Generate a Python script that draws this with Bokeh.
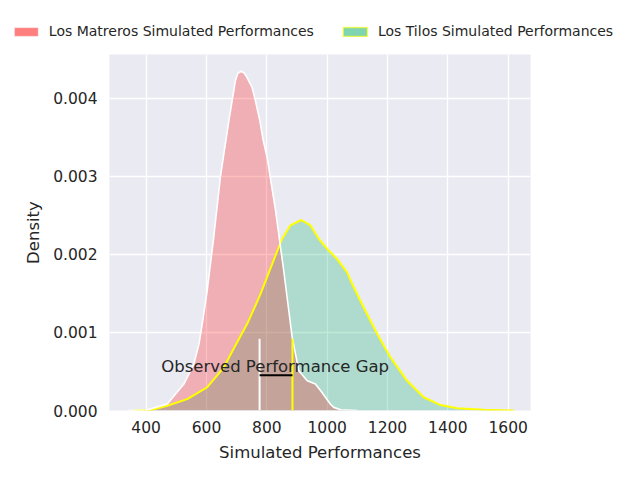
from bokeh.plotting import figure
from bokeh.layouts import column
from bokeh.models import ColumnDataSource, FixedTicker, PrintfTickFormatter, Legend, LegendItem
from bokeh.core.properties import value
from bokeh.embed import file_html
from bokeh.resources import INLINE

# ---- data ----
matreros_x = [340, 400, 470, 525, 558, 575, 586, 602, 624, 646, 674, 685, 696, 704, 715,
              726, 735, 751, 762, 777, 788, 801, 829, 856, 884, 906, 934, 961, 983, 1011,
              1022, 1045, 1100]
matreros_y = [0.0, 0.000005, 0.000082, 0.000338, 0.000595, 0.00085, 0.00111, 0.00153,
              0.00222, 0.00299, 0.00371, 0.00397, 0.00423, 0.00432, 0.004346, 0.00432,
              0.00426, 0.00414, 0.00397, 0.00371, 0.00346, 0.00324, 0.00256, 0.00179,
              0.00094, 0.00051, 0.00038, 0.00034, 0.00023, 0.00008, 0.00004, 0.00001, 0.0]

tilos_x = [360, 414, 470, 536, 602, 657, 690, 735, 779, 823, 851, 878, 914, 945, 972,
           1000, 1033, 1066, 1083, 1121, 1166, 1210, 1265, 1320, 1376, 1431, 1519, 1618]
tilos_y = [0.0, 0.000005, 0.00006, 0.000146, 0.000295, 0.00055, 0.00079, 0.00111,
           0.00149, 0.00193, 0.0022, 0.00237, 0.00244, 0.00237, 0.0022, 0.00207,
           0.00194, 0.00177, 0.00162, 0.00132, 0.00098, 0.00068, 0.00038, 0.00017,
           0.00007, 0.00003, 0.00001, 0.0]

observed_matreros = 776
observed_tilos = 885
marker_top = 0.00092
gap_y = 0.00045
label_x = 450
label_y = 0.00056
label_text = "Observed Performance Gap"

x_ticks = [400, 600, 800, 1000, 1200, 1400, 1600]
y_ticks = [0.0, 0.001, 0.002, 0.003, 0.004]

series_names = ["Los Matreros Simulated Performances", "Los Tilos Simulated Performances"]

FONT = "DejaVu Sans"
TXT = "#262626"
RED = "red"
GREEN = (0, 170, 100)
NAN = float("nan")

# ---- main plot ----
p = figure(width=624, height=418, x_range=(278.5, 1674), y_range=(0, 0.00456),
           output_backend="svg", toolbar_location=None,
           min_border_left=109, min_border_right=94, min_border_top=8, min_border_bottom=54)
p.background_fill_color = "#EAEAF2"
p.border_fill_color = "white"
p.outline_line_color = None

for g in (p.xgrid, p.ygrid):
    g.grid_line_color = "white"
    g.grid_line_width = 1.3

p.xaxis.ticker = FixedTicker(ticks=x_ticks)
p.yaxis.ticker = FixedTicker(ticks=y_ticks)
p.yaxis.formatter = PrintfTickFormatter(format="%.3f")
for ax in (p.xaxis, p.yaxis):
    ax.axis_line_color = None
    ax.major_tick_line_color = None
    ax.minor_tick_line_color = None
    ax.major_tick_out = 0
    ax.major_label_text_font = FONT
    ax.major_label_text_font_size = "15.5px"
    ax.major_label_text_color = TXT
    ax.axis_label_text_font = FONT
    ax.axis_label_text_font_size = "16.5px"
    ax.axis_label_text_font_style = "normal"
    ax.axis_label_text_color = TXT
p.xaxis.axis_label = "Simulated Performances"
p.yaxis.axis_label = "Density"
p.xaxis.major_label_standoff = 10
p.yaxis.major_label_standoff = 12
p.xaxis.axis_label_standoff = 7
p.yaxis.axis_label_standoff = 7

src_m = ColumnDataSource(dict(x=matreros_x, y=matreros_y))
src_t = ColumnDataSource(dict(x=tilos_x, y=tilos_y))

p.varea(x="x", y1=0, y2="y", source=src_t, fill_color=GREEN, fill_alpha=0.25)
p.varea(x="x", y1=0, y2="y", source=src_m, fill_color=RED, fill_alpha=0.25)
p.line(x="x", y="y", source=src_t, line_color="yellow", line_width=2, line_join="round")
p.line(x="x", y="y", source=src_m, line_color="white", line_width=1.6, line_join="round")

p.segment(x0=[observed_matreros], y0=[0], x1=[observed_matreros], y1=[marker_top],
          line_color="white", line_width=2)
p.segment(x0=[observed_tilos], y0=[0], x1=[observed_tilos], y1=[marker_top],
          line_color="yellow", line_width=2)
p.segment(x0=[observed_matreros], y0=[gap_y], x1=[observed_tilos], y1=[gap_y],
          line_color="black", line_width=2)
p.text(x=[label_x], y=[label_y], text=[label_text], text_font=value(FONT),
       text_font_size="16.5px", text_color=TXT, text_baseline="alphabetic", text_align="left")

# ---- legend strip above the plot ----
lf = figure(width=624, height=46, x_range=(0, 1), y_range=(0, 1),
            output_backend="svg", toolbar_location=None, min_border=0,
            min_border_left=0, min_border_right=0, min_border_top=0, min_border_bottom=0)
lf.axis.visible = False
lf.grid.visible = False
lf.outline_line_color = None
lf.background_fill_color = "white"
leg_m = lf.quad(left=[NAN], right=[NAN], top=[NAN], bottom=[NAN], fill_color=RED,
                fill_alpha=0.5, line_color="white", line_alpha=0.6)
leg_t = lf.quad(left=[NAN], right=[NAN], top=[NAN], bottom=[NAN], fill_color=GREEN,
                fill_alpha=0.5, line_color="yellow", line_alpha=0.6, line_width=1.5)
legend = Legend(items=[LegendItem(label=series_names[0], renderers=[leg_m]),
                       LegendItem(label=series_names[1], renderers=[leg_t])],
                orientation="horizontal", location="bottom_center",
                glyph_width=30, glyph_height=11, label_standoff=8, spacing=26,
                label_text_font=FONT, label_text_font_size="14px", label_text_color=TXT,
                border_line_color=None, background_fill_alpha=0,
                padding=4, margin=7)
lf.add_layout(legend, "center")

layout = column(column(lf), p, spacing=0)
open("out.html", "w").write(file_html(layout, INLINE))
